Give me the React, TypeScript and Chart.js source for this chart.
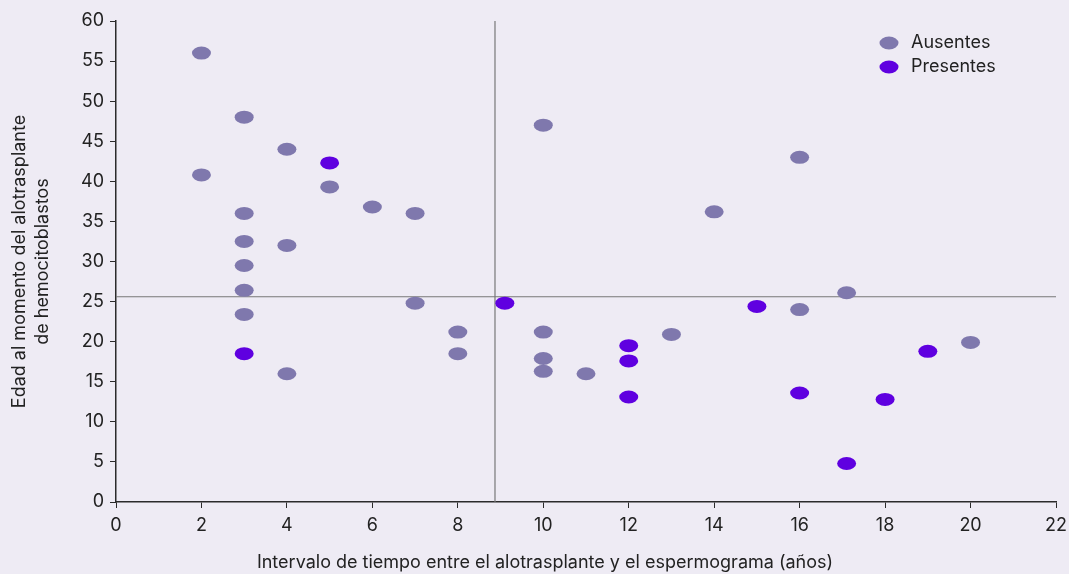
import React, { useEffect, useRef } from "react";
import { Chart, registerables } from "chart.js";

Chart.register(...registerables);

// ---- data ----
const seriesNames = ["Ausentes", "Presentes"];
const ausentesX = [2, 2, 3, 3, 3, 3, 3, 3, 4, 4, 4, 5, 6, 7, 7, 8, 8, 10, 10, 10, 10, 11, 13, 14, 16, 16, 17.1, 20];
const ausentesY = [56, 40.8, 48, 36, 32.5, 29.5, 26.4, 23.4, 44, 32, 16, 39.3, 36.8, 36, 24.8, 21.2, 18.5, 47, 21.2, 17.9, 16.3, 16, 20.9, 36.2, 43, 24, 26.1, 19.9];
const presentesX = [3, 5, 9.1, 12, 12, 12, 15, 16, 17.1, 18, 19];
const presentesY = [18.5, 42.3, 24.8, 19.5, 17.6, 13.1, 24.4, 13.6, 4.8, 12.8, 18.8];
const refLineX = 8.87;
const refLineY = 25.6;
const xRange = [0, 22];
const yRange = [0, 60];
const xStep = 2;
const yStep = 5;
const xTitle = "Intervalo de tiempo entre el alotrasplante y el espermograma (años)";
const yTitle = ["Edad al momento del alotrasplante", "de hemocitoblastos"];

// ---- styles ----
const BG = "#eeebf4";
const COLORS = ["#7f78ad", "#5f00e0"];
const AXIS = "#2b2b2b";
const REF = "#777777";
const TEXT = "#222222";
const FONT = "Inter, 'Noto Sans', sans-serif";
const RX = 9.5;
const RY = 6.5;

function ellipse(ctx: CanvasRenderingContext2D, x: number, y: number, color: string) {
  ctx.fillStyle = color;
  ctx.beginPath();
  ctx.ellipse(x, y, RX, RY, 0, 0, Math.PI * 2);
  ctx.fill();
}

export default function App() {
  const ref = useRef<HTMLCanvasElement | null>(null);

  useEffect(() => {
    document.body.style.margin = "0";
    document.body.style.background = BG;
    const canvas = ref.current!;

    // draws the scatter marks as ellipses at the positions the library computed
    const ellipsePlugin = {
      id: "ellipsePoints",
      afterDatasetsDraw(chart: any) {
        const ctx = chart.ctx;
        ctx.save();
        chart.data.datasets.forEach((ds: any, di: number) => {
          const si = seriesNames.indexOf(ds.label);
          if (si < 0) return;
          const meta = chart.getDatasetMeta(di);
          meta.data.forEach((el: any) => ellipse(ctx, el.x, el.y, COLORS[si]));
        });
        ctx.restore();
      },
    };

    const legendPlugin = {
      id: "customLegend",
      afterDraw(chart: any) {
        const ctx = chart.ctx;
        ctx.save();
        ctx.font = `18px ${FONT}`;
        ctx.textBaseline = "middle";
        seriesNames.forEach((name, i) => {
          const y = 43 + i * 24;
          ellipse(ctx, 889, y, COLORS[i]);
          ctx.fillStyle = TEXT;
          ctx.fillText(name, 911, y);
        });
        ctx.restore();
      },
    };

    const xTitlePlugin = {
      id: "xTitle",
      afterDraw(chart: any) {
        const ctx = chart.ctx;
        ctx.save();
        ctx.font = `18px ${FONT}`;
        ctx.fillStyle = TEXT;
        ctx.textAlign = "center";
        ctx.textBaseline = "middle";
        ctx.fillText(xTitle, 545, 563);
        ctx.restore();
      },
    };

    const chart = new Chart(canvas, {
      type: "scatter",
      data: {
        datasets: [
          {
            type: "line",
            label: "refX",
            data: [
              { x: refLineX, y: yRange[0] },
              { x: refLineX, y: yRange[1] },
            ],
            borderColor: REF,
            borderWidth: 1.2,
            pointRadius: 0,
          },
          {
            type: "line",
            label: "refY",
            data: [
              { x: xRange[0], y: refLineY },
              { x: xRange[1], y: refLineY },
            ],
            borderColor: REF,
            borderWidth: 1.2,
            pointRadius: 0,
          },
          {
            label: seriesNames[0],
            data: ausentesX.map((x, i) => ({ x, y: ausentesY[i] })),
            pointRadius: 0,
            pointHoverRadius: 0,
            backgroundColor: COLORS[0],
          },
          {
            label: seriesNames[1],
            data: presentesX.map((x, i) => ({ x, y: presentesY[i] })),
            pointRadius: 0,
            pointHoverRadius: 0,
            backgroundColor: COLORS[1],
          },
        ] as any,
      },
      options: {
        animation: false,
        responsive: false,
        events: [],
        layout: { padding: { top: 21, right: 13, left: 0, bottom: 0 } },
        plugins: {
          legend: { display: false },
          tooltip: { enabled: false },
        },
        scales: {
          x: {
            type: "linear",
            min: xRange[0],
            max: xRange[1],
            ticks: {
              stepSize: xStep,
              color: TEXT,
              font: { family: FONT, size: 18 },
              padding: 7,
            },
            grid: {
              display: true,
              drawOnChartArea: false,
              drawTicks: true,
              tickLength: 6,
              color: AXIS,
            },
            border: { display: true, color: AXIS, width: 1.5 },
            afterFit(scale: any) {
              scale.height = 72;
              scale.paddingLeft = 0;
              scale.paddingRight = 0;
            },
          },
          y: {
            type: "linear",
            min: yRange[0],
            max: yRange[1],
            ticks: {
              stepSize: yStep,
              color: TEXT,
              font: { family: FONT, size: 18 },
              padding: 6,
            },
            grid: {
              display: true,
              drawOnChartArea: false,
              drawTicks: true,
              tickLength: 6,
              color: AXIS,
            },
            border: { display: true, color: AXIS, width: 1.5 },
            title: {
              display: true,
              text: yTitle,
              color: TEXT,
              font: { family: FONT, size: 18, lineHeight: 1.28 },
              padding: { top: 8, bottom: 0 },
            },
            afterFit(scale: any) {
              scale.width = 116;
              scale.paddingTop = 0;
              scale.paddingBottom = 0;
            },
          },
        },
      },
      plugins: [ellipsePlugin, legendPlugin, xTitlePlugin],
    } as any);

    return () => chart.destroy();
  }, []);

  return (
    <div style={{ width: 1069, height: 574, background: BG }}>
      <canvas ref={ref} width={1069} height={574} style={{ display: "block" }} />
    </div>
  );
}
